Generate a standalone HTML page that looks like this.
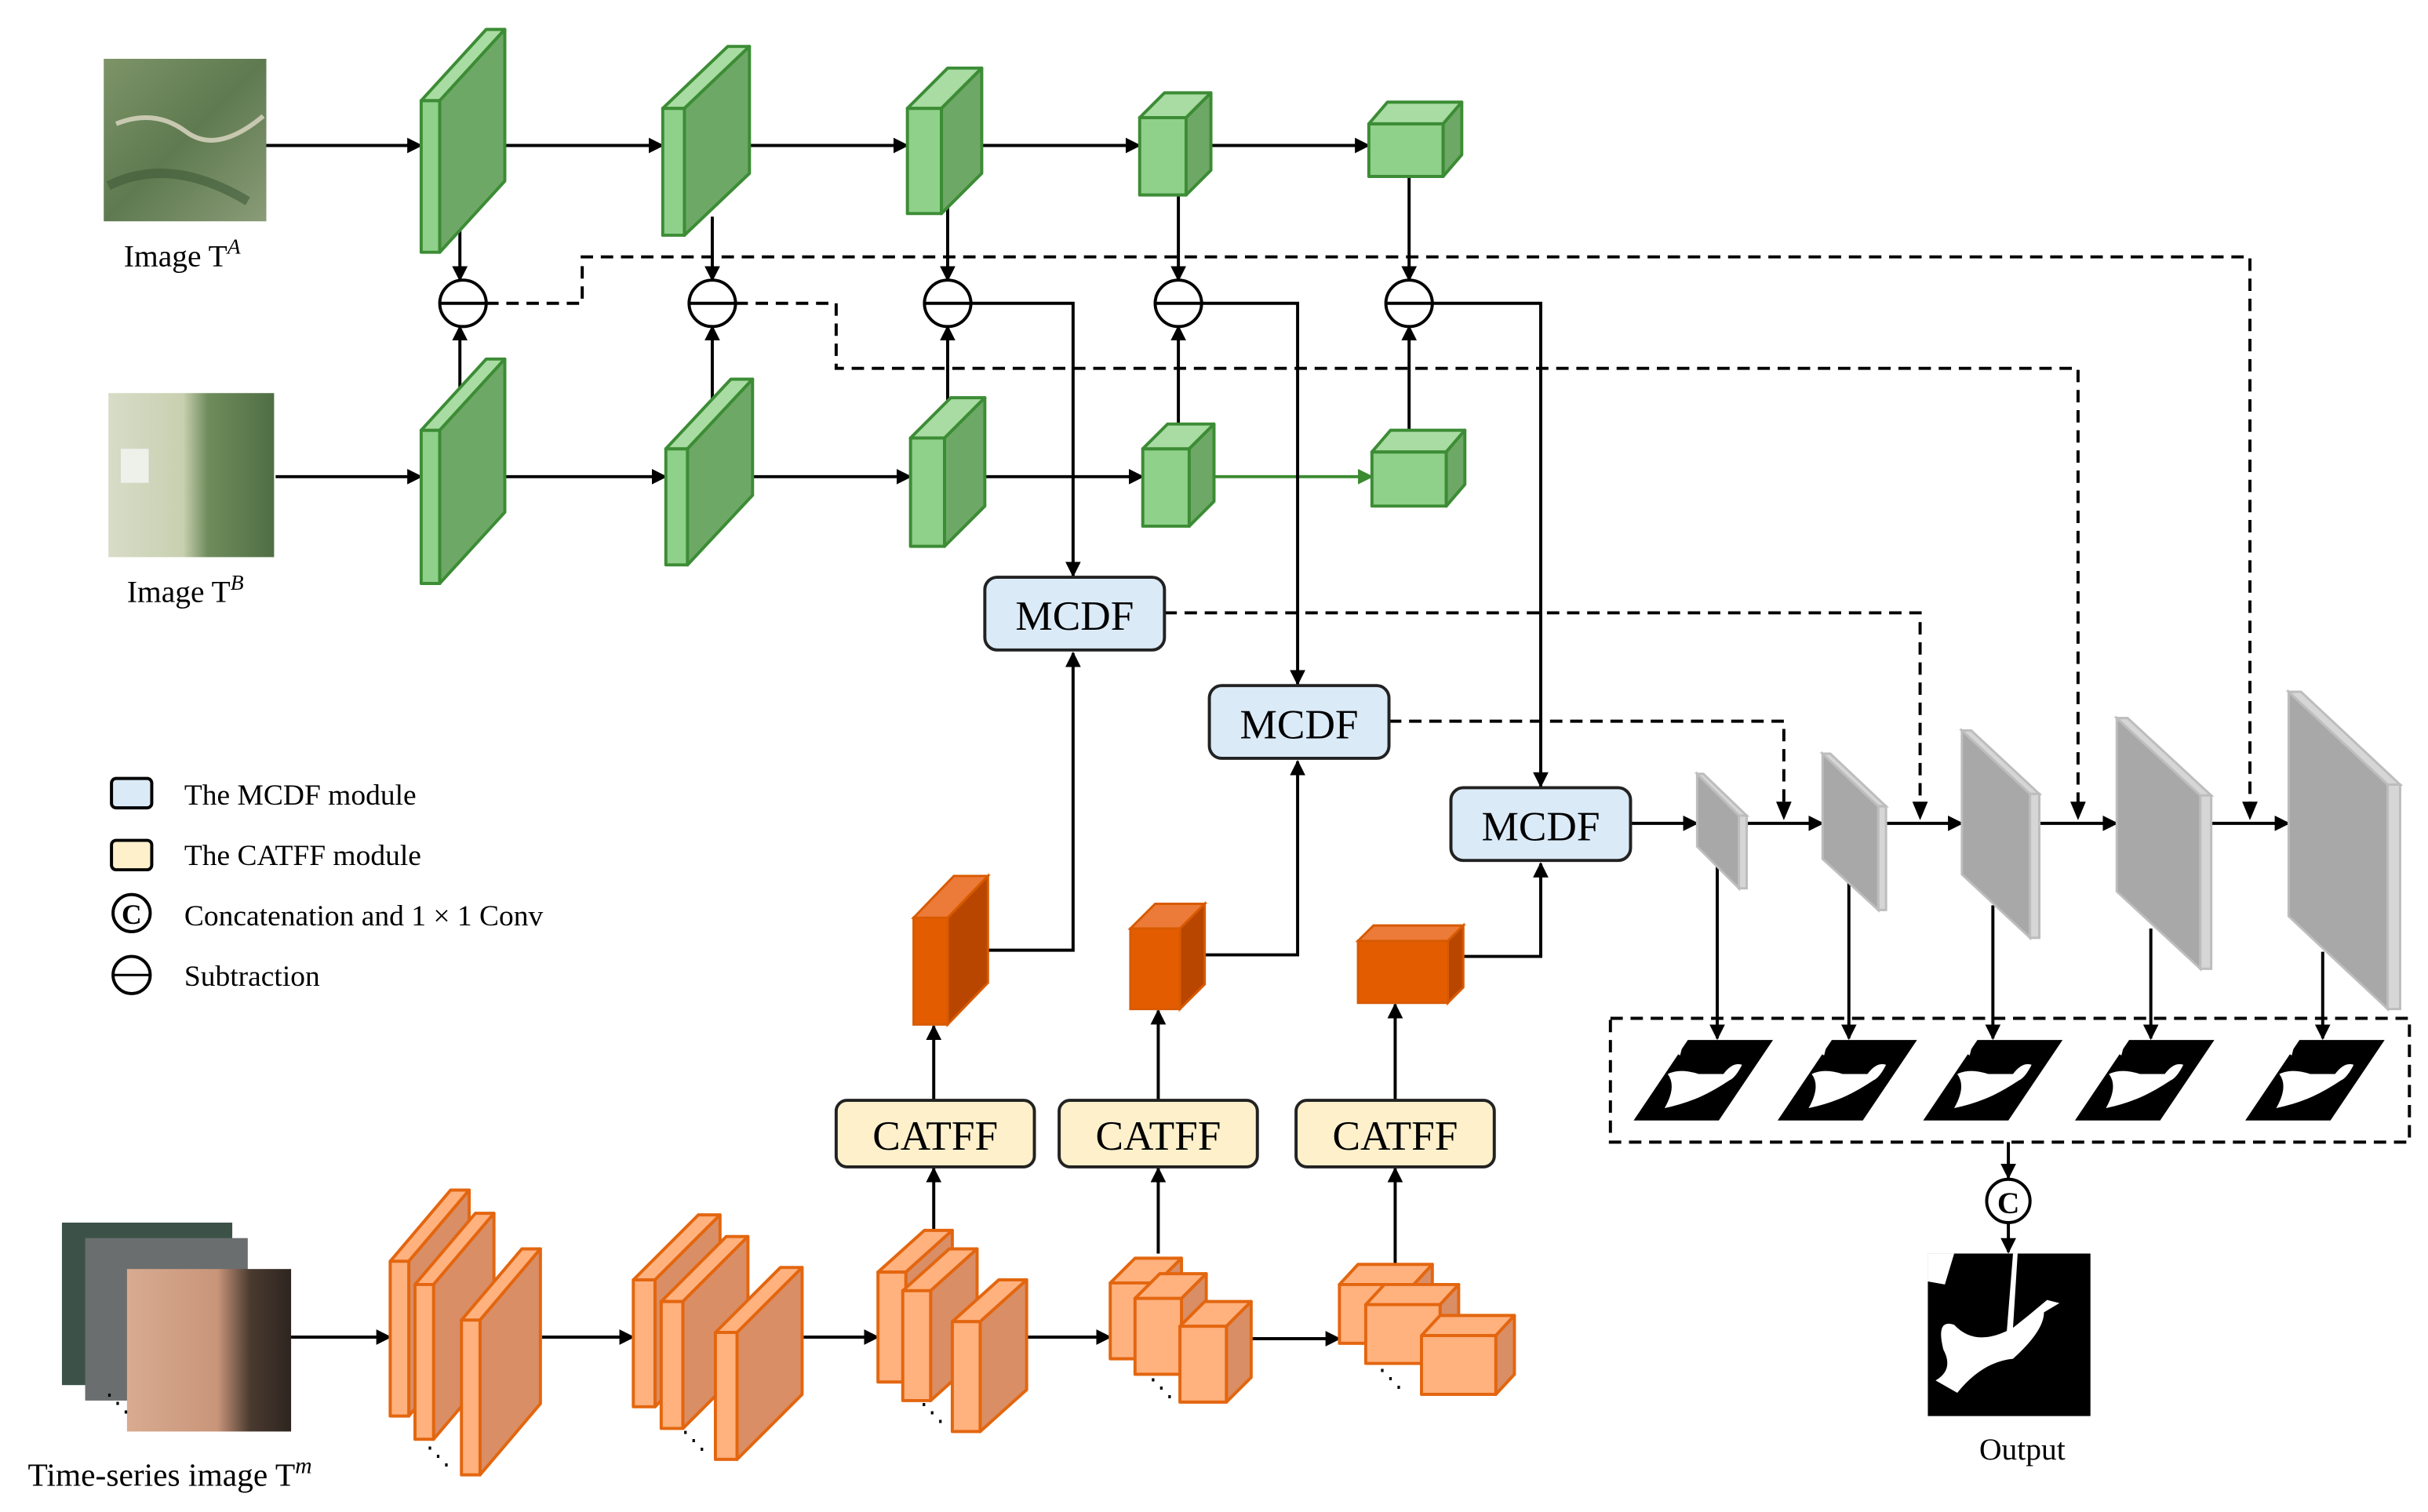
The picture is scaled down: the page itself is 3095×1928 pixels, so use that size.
<!DOCTYPE html>
<html><head><meta charset="utf-8"><style>html,body{margin:0;padding:0;background:#fff}svg{display:block}text{font-family:"Liberation Serif",serif;fill:#000}</style></head>
<body>
<svg width="3095" height="1928" viewBox="0 0 1568 977" preserveAspectRatio="none" xmlns="http://www.w3.org/2000/svg">
<defs>
<marker id="ah" markerWidth="10" markerHeight="10" refX="9" refY="5" orient="auto" markerUnits="userSpaceOnUse"><path d="M0,0 L10,5 L0,10 z" fill="#000"/></marker>
<marker id="ag" markerWidth="10" markerHeight="10" refX="9" refY="5" orient="auto" markerUnits="userSpaceOnUse"><path d="M0,0 L10,5 L0,10 z" fill="#3a8a30"/></marker>
<linearGradient id="ta" x1="0" y1="0" x2="1" y2="1"><stop offset="0" stop-color="#7d9468"/><stop offset=".5" stop-color="#5f7a50"/><stop offset="1" stop-color="#8a9c78"/></linearGradient>
<linearGradient id="tb" x1="0" y1="0" x2="1" y2="0"><stop offset="0" stop-color="#d8dcc8"/><stop offset=".45" stop-color="#c8d0b0"/><stop offset=".6" stop-color="#6f8c5c"/><stop offset="1" stop-color="#4f6e44"/></linearGradient>
<linearGradient id="tm" x1="0" y1="0" x2="1" y2="0"><stop offset="0" stop-color="#d8ab90"/><stop offset=".55" stop-color="#c9957a"/><stop offset=".75" stop-color="#4a3a30"/><stop offset="1" stop-color="#2e2520"/></linearGradient>
</defs>

<!-- images -->
<rect x="67" y="38" width="105" height="105" fill="url(#ta)"/>
<path d="M75,80 Q100,70 120,85 T170,75" stroke="#c8c8b0" stroke-width="3" fill="none"/>
<path d="M70,120 Q110,100 160,130" stroke="#3f5a38" stroke-width="6" fill="none" opacity=".6"/>
<text x="80" y="172" font-size="20">Image T<tspan font-style="italic" font-size="14" dy="-8">A</tspan></text>
<rect x="70" y="254" width="107" height="106" fill="url(#tb)"/>
<rect x="78" y="290" width="18" height="22" fill="#eef0ea"/>
<text x="82" y="389" font-size="20">Image T<tspan font-style="italic" font-size="14" dy="-8">B</tspan></text>
<rect x="40" y="790" width="110" height="105" fill="#3c5248"/>
<rect x="55" y="800" width="105" height="105" fill="#6a6e6e"/>
<rect x="82" y="820" width="106" height="105" fill="url(#tm)"/>
<text x="68" y="912" font-size="16">⋱</text>
<text x="18" y="960" font-size="21">Time-series image T<tspan font-style="italic" font-size="15" dy="-8">m</tspan></text>

<!-- green row arrows -->
<g stroke="#000" stroke-width="2" fill="none" marker-end="url(#ah)">
<line x1="172" y1="94" x2="272" y2="94"/><line x1="305" y1="94" x2="428" y2="94"/><line x1="462" y1="94" x2="586" y2="94"/><line x1="624" y1="94" x2="736" y2="94"/><line x1="772" y1="94" x2="884" y2="94"/>
<line x1="178" y1="308" x2="272" y2="308"/><line x1="308" y1="308" x2="430" y2="308"/><line x1="464" y1="308" x2="588" y2="308"/><line x1="628" y1="308" x2="738" y2="308"/>
<line x1="297" y1="140" x2="297" y2="181"/><line x1="460" y1="140" x2="460" y2="181"/><line x1="612" y1="125" x2="612" y2="181"/><line x1="761" y1="118" x2="761" y2="181"/><line x1="910" y1="108" x2="910" y2="181"/>
<line x1="297" y1="255" x2="297" y2="211"/><line x1="460" y1="265" x2="460" y2="211"/><line x1="612" y1="270" x2="612" y2="211"/><line x1="761" y1="285" x2="761" y2="211"/><line x1="910" y1="290" x2="910" y2="211"/>
</g>
<line x1="778" y1="308" x2="886" y2="308" stroke="#3a8a30" stroke-width="2" marker-end="url(#ag)"/>

<!-- green boxes -->
<g stroke="#3c8c35" stroke-width="2" stroke-linejoin="round">
<rect x="272" y="65" width="12" height="98" fill="#8fd08a"/><polygon points="272,65 284,65 326,19 314,19" fill="#a8dca2"/><polygon points="284,65 326,19 326,117 284,163" fill="#6ea866"/>
<rect x="428" y="70" width="14" height="82" fill="#8fd08a"/><polygon points="428,70 442,70 484,30 470,30" fill="#a8dca2"/><polygon points="442,70 484,30 484,112 442,152" fill="#6ea866"/>
<rect x="586" y="70" width="22" height="68" fill="#8fd08a"/><polygon points="586,70 608,70 634,44 612,44" fill="#a8dca2"/><polygon points="608,70 634,44 634,112 608,138" fill="#6ea866"/>
<rect x="736" y="76" width="30" height="50" fill="#8fd08a"/><polygon points="736,76 766,76 782,60 752,60" fill="#a8dca2"/><polygon points="766,76 782,60 782,110 766,126" fill="#6ea866"/>
<rect x="884" y="80" width="48" height="34" fill="#8fd08a"/><polygon points="884,80 932,80 944,66 896,66" fill="#a8dca2"/><polygon points="932,80 944,66 944,100 932,114" fill="#6ea866"/>
<rect x="272" y="278" width="12" height="99" fill="#8fd08a"/><polygon points="272,278 284,278 326,232 314,232" fill="#a8dca2"/><polygon points="284,278 326,232 326,331 284,377" fill="#6ea866"/>
<rect x="430" y="290" width="14" height="75" fill="#8fd08a"/><polygon points="430,290 444,290 486,245 472,245" fill="#a8dca2"/><polygon points="444,290 486,245 486,320 444,365" fill="#6ea866"/>
<rect x="588" y="283" width="22" height="70" fill="#8fd08a"/><polygon points="588,283 610,283 636,257 614,257" fill="#a8dca2"/><polygon points="610,283 636,257 636,327 610,353" fill="#6ea866"/>
<rect x="738" y="290" width="30" height="50" fill="#8fd08a"/><polygon points="738,290 768,290 784,274 754,274" fill="#a8dca2"/><polygon points="768,290 784,274 784,324 768,340" fill="#6ea866"/>
<rect x="886" y="292" width="48" height="35" fill="#8fd08a"/><polygon points="886,292 934,292 946,278 898,278" fill="#a8dca2"/><polygon points="934,292 946,278 946,313 934,327" fill="#6ea866"/>
</g>

<!-- subtraction circles -->
<g stroke="#000" stroke-width="2" fill="#fff">
<circle cx="299" cy="196" r="15"/><circle cx="460" cy="196" r="15"/><circle cx="612" cy="196" r="15"/><circle cx="761" cy="196" r="15"/><circle cx="910" cy="196" r="15"/>
<line x1="284" y1="196" x2="314" y2="196"/><line x1="445" y1="196" x2="475" y2="196"/><line x1="597" y1="196" x2="627" y2="196"/><line x1="746" y1="196" x2="776" y2="196"/><line x1="895" y1="196" x2="925" y2="196"/>
</g>

<!-- dashed -->
<g stroke="#000" stroke-width="2" fill="none" stroke-dasharray="8,5">
<polyline points="314,196 376,196 376,166 1453,166 1453,520"/>
<polyline points="475,196 540,196 540,238 1342,238 1342,520"/>
<polyline points="752,396 1240,396 1240,520"/>
<polyline points="897,466 1152,466 1152,520"/>
<rect x="1040" y="658" width="516" height="80"/>
</g>
<g fill="#000"><path d="M1448,518 L1458,518 L1453,530 z"/><path d="M1337,518 L1347,518 L1342,530 z"/><path d="M1235,518 L1245,518 L1240,530 z"/><path d="M1147,518 L1157,518 L1152,530 z"/></g>

<!-- solid connectors -->
<g stroke="#000" stroke-width="2" fill="none" marker-end="url(#ah)">
<polyline points="627,196 693,196 693,372"/>
<polyline points="776,196 838,196 838,442"/>
<polyline points="925,196 995,196 995,508"/>
<polyline points="638,614 693,614 693,422"/>
<polyline points="770,617 838,617 838,492"/>
<polyline points="935,618 995,618 995,558"/>
<line x1="603" y1="711" x2="603" y2="663"/><line x1="748" y1="711" x2="748" y2="653"/><line x1="901" y1="711" x2="901" y2="649"/>
<line x1="603" y1="795" x2="603" y2="755"/><line x1="748" y1="810" x2="748" y2="755"/><line x1="901" y1="820" x2="901" y2="755"/>
<line x1="188" y1="864" x2="252" y2="864"/><line x1="350" y1="864" x2="409" y2="864"/><line x1="519" y1="864" x2="567" y2="864"/><line x1="663" y1="864" x2="717" y2="864"/><line x1="808" y1="865" x2="865" y2="865"/>
<line x1="1053" y1="532" x2="1096" y2="532"/><line x1="1128" y1="532" x2="1177" y2="532"/><line x1="1218" y1="532" x2="1267" y2="532"/><line x1="1317" y1="532" x2="1367" y2="532"/><line x1="1428" y1="532" x2="1478" y2="532"/>
<line x1="1109" y1="560" x2="1109" y2="671"/><line x1="1194" y1="570" x2="1194" y2="671"/><line x1="1287" y1="585" x2="1287" y2="671"/><line x1="1389" y1="600" x2="1389" y2="671"/><line x1="1500" y1="615" x2="1500" y2="671"/>
<line x1="1297" y1="738" x2="1297" y2="761"/><line x1="1297" y1="790" x2="1297" y2="809"/>
</g>

<!-- boxes -->
<g stroke="#222" stroke-width="2">
<rect x="636" y="373" width="116" height="47" rx="8" fill="#dbeaf7"/>
<rect x="781" y="443" width="116" height="47" rx="8" fill="#dbeaf7"/>
<rect x="937" y="509" width="116" height="47" rx="8" fill="#dbeaf7"/>
<rect x="540" y="711" width="128" height="43" rx="7" fill="#fdf0cb"/>
<rect x="684" y="711" width="128" height="43" rx="7" fill="#fdf0cb"/>
<rect x="837" y="711" width="128" height="43" rx="7" fill="#fdf0cb"/>
</g>
<g font-size="27" text-anchor="middle">
<text x="694" y="407">MCDF</text><text x="839" y="477">MCDF</text><text x="995" y="543">MCDF</text>
<text x="604" y="743">CATFF</text><text x="748" y="743">CATFF</text><text x="901" y="743">CATFF</text>
</g>

<!-- orange top boxes -->
<g stroke="#d85a00" stroke-width="1.5">
<rect x="590" y="593" width="22" height="69" fill="#e35d00"/><polygon points="590,593 612,593 638,566 616,566" fill="#ec7a38"/><polygon points="612,593 638,566 638,635 612,662" fill="#b84600"/>
<rect x="730" y="600" width="32" height="52" fill="#e35d00"/><polygon points="730,600 762,600 778,584 746,584" fill="#ec7a38"/><polygon points="762,600 778,584 778,636 762,652" fill="#b84600"/>
<rect x="877" y="608" width="58" height="40" fill="#e35d00"/><polygon points="877,608 935,608 945,598 887,598" fill="#ec7a38"/><polygon points="935,608 945,598 945,638 935,648" fill="#b84600"/>
</g>

<!-- bottom stacks -->
<defs>
<g id="s1"><polygon points="0,0 12,0 51,-46 39,-46"/><polygon points="12,0 51,-46 51,54 12,100" fill="#d98e66"/><rect x="0" y="0" width="12" height="100"/></g>
<g id="s2"><polygon points="0,0 14,0 56,-42 42,-42"/><polygon points="14,0 56,-42 56,40 14,82" fill="#d98e66"/><rect x="0" y="0" width="14" height="82"/></g>
<g id="s3"><polygon points="0,0 18,0 48,-27 30,-27"/><polygon points="18,0 48,-27 48,44 18,71" fill="#d98e66"/><rect x="0" y="0" width="18" height="71"/></g>
<g id="s4"><polygon points="0,0 30,0 46,-16 16,-16"/><polygon points="30,0 46,-16 46,33 30,49" fill="#d98e66"/><rect x="0" y="0" width="30" height="49"/></g>
<g id="s5"><polygon points="0,0 48,0 60,-13 12,-13"/><polygon points="48,0 60,-13 60,25 48,38" fill="#d98e66"/><rect x="0" y="0" width="48" height="38"/></g>
</defs>
<g stroke="#e3660f" stroke-width="2" fill="#ffb17e" stroke-linejoin="round">
<use href="#s1" x="252" y="815"/><use href="#s1" x="268" y="830"/><use href="#s1" x="298" y="853"/>
<use href="#s2" x="409" y="827"/><use href="#s2" x="427" y="841"/><use href="#s2" x="462" y="861"/>
<use href="#s3" x="567" y="822"/><use href="#s3" x="583" y="834"/><use href="#s3" x="615" y="854"/>
<use href="#s4" x="717" y="829"/><use href="#s4" x="733" y="839"/><use href="#s4" x="762" y="857"/>
<use href="#s5" x="865" y="830"/><use href="#s5" x="882" y="843"/><use href="#s5" x="918" y="863"/>
</g>
<g font-size="16"><text x="275" y="946">⋱</text><text x="440" y="936">⋱</text><text x="594" y="918">⋱</text><text x="742" y="902">⋱</text><text x="890" y="896">⋱</text></g>

<!-- gray blocks -->
<g stroke="#bdbdbd" stroke-width="1.5">
<polygon points="1096,500 1123,527 1123,574 1096,547" fill="#a8a8a8"/><polygon points="1096,500 1100,500 1128,527 1123,527" fill="#d6d6d6"/><rect x="1123" y="527" width="5" height="47" fill="#d6d6d6"/>
<polygon points="1177,487 1213,521 1213,588 1177,555" fill="#a8a8a8"/><polygon points="1177,487 1182,487 1218,521 1213,521" fill="#d6d6d6"/><rect x="1213" y="521" width="5" height="67" fill="#d6d6d6"/>
<polygon points="1267,472 1311,513 1311,606 1267,565" fill="#a8a8a8"/><polygon points="1267,472 1273,472 1317,513 1311,513" fill="#d6d6d6"/><rect x="1311" y="513" width="6" height="93" fill="#d6d6d6"/>
<polygon points="1367,464 1421,514 1421,626 1367,576" fill="#a8a8a8"/><polygon points="1367,464 1374,464 1428,514 1421,514" fill="#d6d6d6"/><rect x="1421" y="514" width="7" height="112" fill="#d6d6d6"/>
<polygon points="1478,447 1542,507 1542,652 1478,592" fill="#a8a8a8"/><polygon points="1478,447 1486,447 1550,507 1542,507" fill="#d6d6d6"/><rect x="1542" y="507" width="8" height="145" fill="#d6d6d6"/>
</g>

<!-- masks -->
<defs>
<g id="mk"><polygon points="0,52 55,52 90,0 35,0" fill="#000"/><path d="M20,44 Q28,30 22,22 Q30,18 42,22 L58,22 Q64,14 70,16 Q66,24 62,26 Q50,34 40,38 Q30,42 20,44z" fill="#fff"/><path d="M24,6 L32,2 L30,10z" fill="#fff"/></g>
</defs>
<use href="#mk" x="1055" y="672"/><use href="#mk" x="1148" y="672"/><use href="#mk" x="1242" y="672"/><use href="#mk" x="1340" y="672"/><use href="#mk" x="1450" y="672"/>

<!-- concat and output -->
<circle cx="1297" cy="776" r="14" fill="#fff" stroke="#000" stroke-width="2"/>
<text x="1297" y="784" font-size="20" font-weight="bold" text-anchor="middle">C</text>
<rect x="1245" y="810" width="105" height="105" fill="#000"/>
<path d="M1245,810 L1262,810 L1256,830 L1245,828z M1300,810 L1296,860 Q1275,870 1262,856 Q1250,852 1255,872 Q1262,885 1250,892 L1264,900 Q1280,880 1300,878 Q1320,860 1320,848 L1330,842 L1322,840 L1310,850 L1300,858 L1303,810z" fill="#fff"/>
<text x="1306" y="943" font-size="20" text-anchor="middle">Output</text>

<!-- legend -->
<rect x="72" y="503" width="26" height="19" rx="3" fill="#dbeaf7" stroke="#000" stroke-width="2"/>
<rect x="72" y="543" width="26" height="19" rx="3" fill="#fdf0cb" stroke="#000" stroke-width="2"/>
<circle cx="85" cy="590" r="12" fill="#fff" stroke="#000" stroke-width="2"/>
<text x="85" y="597" font-size="18" font-weight="bold" text-anchor="middle">C</text>
<circle cx="85" cy="630" r="12" fill="#fff" stroke="#000" stroke-width="2"/>
<line x1="73" y1="630" x2="97" y2="630" stroke="#000" stroke-width="1.5"/>
<g font-size="19"><text x="119" y="520">The MCDF module</text><text x="119" y="559">The CATFF module</text><text x="119" y="598">Concatenation and 1 × 1 Conv</text><text x="119" y="637">Subtraction</text></g>
</svg>
</body></html>
